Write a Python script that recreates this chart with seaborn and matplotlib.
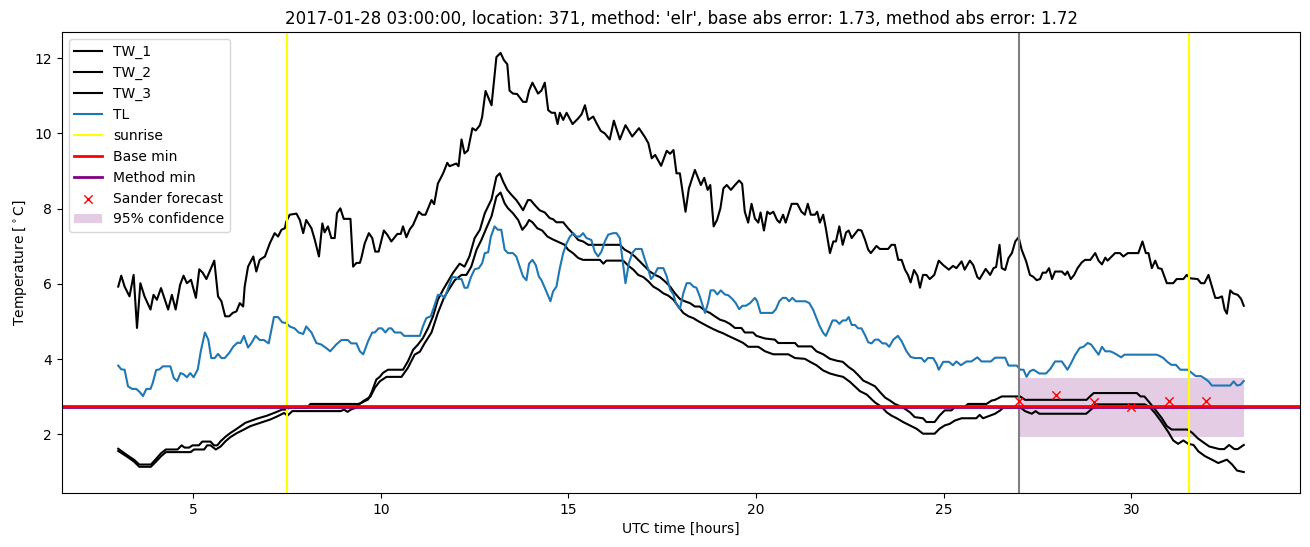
import matplotlib
matplotlib.use("Agg")
import matplotlib.pyplot as plt
import seaborn as sns
import numpy as np

# ---------------- data ----------------
tw1_hours = [3.00, 3.08, 3.17, 3.30, 3.41, 3.50, 3.59, 3.70, 3.86, 3.94, 4.03, 4.14, 4.33, 4.43, 4.53, 4.65, 4.74, 4.83, 4.94, 5.07,
             5.16, 5.25, 5.35, 5.56, 5.66, 5.75, 5.85, 5.96, 6.05, 6.15, 6.24, 6.33, 6.37, 6.46, 6.60, 6.68, 6.77, 6.91, 7.04, 7.17,
             7.26, 7.35, 7.44, 7.48, 7.57, 7.75, 7.84, 7.93, 8.01, 8.15, 8.24, 8.35, 8.44, 8.50, 8.59, 8.68, 8.77, 8.83, 8.92, 9.01,
             9.19, 9.26, 9.35, 9.44, 9.48, 9.57, 9.68, 9.77, 9.85, 9.94, 10.08, 10.17, 10.28, 10.44, 10.53, 10.59, 10.68, 10.77, 10.86, 11.01,
             11.10, 11.19, 11.35, 11.42, 11.52, 11.66, 11.77, 11.83, 12.01, 12.07, 12.15, 12.23, 12.32, 12.44, 12.53, 12.64, 12.70, 12.79, 12.95, 13.08,
             13.19, 13.28, 13.37, 13.43, 13.52, 13.63, 13.79, 13.88, 13.95, 14.04, 14.19, 14.28, 14.37, 14.46, 14.55, 14.64, 14.71, 14.77, 14.86, 14.95,
             15.11, 15.26, 15.35, 15.44, 15.53, 15.66, 15.75, 15.86, 15.97, 16.10, 16.21, 16.37, 16.52, 16.70, 16.88, 17.04, 17.13, 17.22, 17.31, 17.47,
             17.62, 17.71, 17.80, 17.88, 17.97, 18.12, 18.21, 18.37, 18.53, 18.62, 18.71, 18.78, 18.87, 18.96, 19.05, 19.13, 19.22, 19.33, 19.44, 19.55,
             19.63, 19.70, 19.79, 19.88, 19.97, 20.06, 20.12, 20.21, 20.30, 20.37, 20.46, 20.56, 20.63, 20.72, 20.79, 20.95, 21.10, 21.21, 21.30, 21.38,
             21.46, 21.57, 21.63, 21.70, 21.79, 21.86, 21.97, 22.06, 22.13, 22.22, 22.31, 22.40, 22.47, 22.55, 22.72, 22.81, 22.90, 22.99, 23.06, 23.21,
             23.30, 23.52, 23.61, 23.70, 23.79, 23.88, 23.97, 24.05, 24.12, 24.21, 24.30, 24.37, 24.45, 24.54, 24.63, 24.75, 24.87, 24.99, 25.14, 25.25,
             25.34, 25.48, 25.56, 25.70, 25.79, 25.90, 25.96, 26.12, 26.24, 26.33, 26.40, 26.49, 26.55, 26.64, 26.73, 26.82, 26.91, 27.00, 27.08, 27.20,
             27.30, 27.39, 27.48, 27.57, 27.64, 27.73, 27.81, 27.89, 27.97, 28.15, 28.24, 28.30, 28.39, 28.48, 28.57, 28.68, 28.77, 28.91, 29.04, 29.13,
             29.22, 29.31, 29.37, 29.48, 29.57, 29.70, 29.79, 29.91, 30.19, 30.30, 30.39, 30.46, 30.55, 30.64, 30.72, 30.81, 30.95, 31.12, 31.21, 31.39,
             31.48, 31.57, 31.77, 31.86, 31.95, 32.06, 32.24, 32.33, 32.42, 32.49, 32.55, 32.64, 32.72, 32.84, 32.93, 33.00]
tw1_temp = [5.93, 6.22, 5.93, 5.67, 6.24, 4.83, 6.02, 5.67, 5.32, 5.71, 5.58, 5.89, 5.32, 5.71, 5.32, 5.98, 6.22, 6.02, 6.11, 5.63,
            6.39, 6.30, 6.13, 6.62, 5.67, 5.54, 5.14, 5.14, 5.23, 5.27, 5.49, 5.40, 5.93, 6.46, 6.73, 6.33, 6.64, 6.73, 7.08, 7.35,
            7.26, 7.44, 7.48, 7.66, 7.84, 7.87, 7.70, 7.35, 7.70, 7.48, 7.17, 6.73, 7.61, 7.37, 7.53, 7.22, 7.22, 7.88, 8.01, 7.73,
            7.73, 6.46, 6.56, 6.56, 6.69, 7.08, 7.35, 7.22, 6.86, 6.86, 7.42, 7.31, 7.13, 7.33, 7.33, 7.53, 7.24, 7.45, 7.57, 7.92,
            7.84, 7.84, 8.23, 8.12, 8.67, 8.94, 9.22, 9.13, 9.20, 9.13, 9.84, 9.47, 9.55, 10.14, 10.08, 10.22, 10.44, 11.13, 10.75, 12.03,
            12.14, 11.95, 11.84, 11.14, 11.06, 11.05, 10.84, 10.84, 11.14, 11.35, 11.06, 11.14, 11.35, 10.62, 10.55, 10.55, 10.25, 10.55, 10.36, 10.55,
            10.25, 10.40, 10.51, 10.75, 10.36, 10.45, 10.27, 10.07, 10.00, 9.84, 10.34, 9.84, 10.22, 9.92, 10.14, 9.90, 9.74, 9.34, 9.43, 9.14,
            9.54, 9.46, 9.56, 8.94, 8.94, 7.92, 8.54, 9.03, 8.63, 8.82, 8.50, 8.63, 7.53, 7.70, 8.01, 8.54, 8.63, 8.50, 8.63, 8.75,
            8.66, 7.92, 7.63, 8.13, 7.74, 7.63, 7.90, 7.42, 7.92, 7.86, 7.92, 7.70, 7.63, 7.84, 7.63, 8.13, 8.13, 7.92, 7.84, 8.13,
            7.84, 7.84, 7.92, 7.63, 7.84, 7.48, 6.82, 7.13, 7.13, 7.53, 7.04, 7.37, 7.42, 7.22, 7.44, 7.42, 7.19, 6.91, 6.82, 7.01,
            6.93, 6.93, 7.04, 7.04, 6.64, 6.64, 6.38, 6.24, 6.04, 6.37, 6.22, 5.90, 6.24, 6.24, 6.13, 6.24, 6.62, 6.50, 6.38, 6.48,
            6.42, 6.60, 6.38, 6.62, 6.50, 6.18, 6.13, 6.40, 6.24, 6.42, 6.45, 7.04, 6.42, 6.37, 6.69, 6.82, 7.13, 7.24, 6.91, 6.60,
            6.24, 6.19, 6.10, 6.13, 6.30, 6.30, 6.42, 6.13, 6.33, 6.33, 6.24, 6.33, 6.13, 6.24, 6.42, 6.57, 6.64, 6.64, 6.82, 6.62,
            6.52, 6.70, 6.62, 6.73, 6.82, 6.82, 6.73, 6.82, 6.82, 7.13, 6.82, 6.82, 6.42, 6.62, 6.42, 6.40, 6.02, 6.02, 6.13, 6.13,
            6.24, 6.15, 6.13, 6.02, 6.02, 6.24, 5.63, 5.63, 5.67, 5.32, 5.21, 5.83, 5.75, 5.71, 5.60, 5.42]

tw2_hours = [3.00, 3.25, 3.43, 3.56, 3.87, 4.00, 4.14, 4.27, 4.58, 4.69, 4.77, 4.89, 4.98, 5.15, 5.24, 5.46, 5.55, 5.64, 5.73, 5.86,
             5.99, 6.13, 6.26, 6.39, 6.70, 6.97, 7.20, 7.37, 7.46, 7.59, 8.05, 8.12, 9.40, 9.48, 9.66, 9.75, 9.88, 9.97, 10.06, 10.19,
             10.59, 10.72, 10.86, 10.99, 11.12, 11.26, 11.39, 11.52, 11.66, 11.79, 11.92, 12.10, 12.23, 12.36, 12.50, 12.64, 12.77, 12.95, 13.08, 13.17,
             13.26, 13.37, 13.48, 13.61, 13.70, 13.79, 13.92, 13.99, 14.10, 14.23, 14.37, 14.50, 14.59, 14.68, 14.86, 14.99, 15.11, 15.26, 15.39, 15.53,
             16.37, 16.50, 16.63, 16.77, 16.90, 17.04, 17.17, 17.31, 17.44, 17.57, 17.71, 17.84, 17.97, 18.10, 18.24, 18.37, 18.50, 18.64, 18.77, 18.90,
             19.04, 19.17, 19.30, 19.44, 19.61, 19.70, 19.92, 20.01, 20.24, 20.50, 20.59, 21.04, 21.12, 21.48, 21.61, 21.79, 21.97, 22.15, 22.31, 22.47,
             22.60, 22.73, 22.86, 22.99, 23.17, 23.30, 23.44, 23.57, 23.70, 23.84, 23.97, 24.10, 24.23, 24.45, 24.54, 24.76, 24.89, 25.03, 25.21, 25.30,
             25.56, 25.65, 26.14, 26.28, 26.37, 26.55, 27.04, 27.17, 28.81, 28.90, 29.00, 30.15, 30.25, 30.35, 30.46, 30.64, 30.81, 30.95, 31.08, 31.50,
             31.63, 31.77, 31.95, 32.08, 32.35, 32.48, 32.61, 32.75, 32.84, 33.00]
tw2_temp = [1.62, 1.44, 1.32, 1.20, 1.20, 1.34, 1.50, 1.60, 1.60, 1.71, 1.65, 1.65, 1.71, 1.71, 1.81, 1.81, 1.71, 1.71, 1.82, 1.94,
            2.04, 2.13, 2.22, 2.31, 2.42, 2.50, 2.59, 2.66, 2.66, 2.72, 2.72, 2.81, 2.81, 2.84, 2.93, 3.11, 3.46, 3.53, 3.64, 3.72,
            3.72, 3.94, 4.25, 4.39, 4.56, 4.83, 5.14, 5.58, 5.85, 6.07, 6.29, 6.54, 6.46, 6.73, 7.22, 7.44, 7.88, 8.25, 8.85, 8.94,
            8.72, 8.50, 8.37, 8.23, 8.10, 7.96, 8.23, 8.23, 8.10, 7.96, 7.90, 7.75, 7.72, 7.64, 7.64, 7.48, 7.35, 7.17, 7.13, 7.04,
            7.04, 6.91, 6.84, 6.73, 6.60, 6.46, 6.33, 6.24, 6.18, 6.07, 5.93, 5.75, 5.60, 5.54, 5.49, 5.40, 5.40, 5.29, 5.23, 5.14,
            5.05, 5.01, 4.94, 4.83, 4.83, 4.71, 4.71, 4.62, 4.55, 4.52, 4.43, 4.43, 4.34, 4.34, 4.21, 4.13, 4.01, 3.96, 3.93, 3.79,
            3.70, 3.57, 3.43, 3.37, 3.28, 3.13, 2.98, 2.90, 2.81, 2.75, 2.68, 2.59, 2.46, 2.43, 2.33, 2.33, 2.50, 2.64, 2.64, 2.73,
            2.73, 2.81, 2.81, 2.90, 2.92, 3.01, 3.01, 2.92, 2.92, 3.01, 3.10, 3.10, 3.01, 3.01, 2.88, 2.66, 2.44, 2.22, 2.13, 2.13,
            2.04, 1.90, 1.77, 1.68, 1.61, 1.61, 1.72, 1.61, 1.61, 1.72]

tw3_hours = [3.00, 3.25, 3.43, 3.56, 3.87, 4.00, 4.14, 4.27, 4.93, 5.02, 5.29, 5.37, 5.46, 5.60, 5.73, 5.86, 5.99, 6.17, 6.35, 6.52,
             6.79, 7.06, 7.24, 7.42, 7.51, 7.64, 8.93, 9.02, 9.11, 9.20, 9.33, 9.42, 9.55, 9.72, 9.84, 9.97, 10.15, 10.55, 10.72, 10.90,
             11.04, 11.17, 11.35, 11.52, 11.68, 11.81, 11.97, 12.15, 12.28, 12.41, 12.55, 12.68, 12.81, 12.95, 13.08, 13.19, 13.30, 13.39, 13.52, 13.66,
             13.77, 13.88, 13.95, 14.04, 14.17, 14.30, 14.44, 14.57, 14.70, 14.90, 14.99, 15.12, 15.26, 15.39, 15.84, 15.93, 16.01, 16.46, 16.60, 16.73,
             16.86, 17.00, 17.13, 17.26, 17.40, 17.53, 17.66, 17.80, 17.93, 18.06, 18.20, 18.33, 18.46, 18.59, 18.72, 18.86, 18.99, 19.12, 19.26, 19.39,
             19.52, 19.66, 19.79, 20.06, 20.24, 20.46, 20.86, 21.04, 21.30, 21.44, 21.61, 21.79, 21.97, 22.15, 22.32, 22.50, 22.63, 22.77, 22.95, 23.17,
             23.35, 23.48, 23.61, 23.75, 23.92, 24.10, 24.28, 24.45, 24.76, 24.89, 25.03, 25.16, 25.30, 25.48, 25.87, 25.96, 26.05, 26.24, 26.37, 26.51,
             26.60, 27.04, 27.17, 27.35, 27.45, 27.55, 28.80, 28.95, 29.05, 30.36, 30.50, 30.64, 30.81, 30.99, 31.12, 31.25, 31.39, 31.52, 31.66, 31.79,
             31.97, 32.15, 32.32, 32.55, 32.69, 32.82, 33.00]
tw3_temp = [1.56, 1.40, 1.27, 1.14, 1.14, 1.27, 1.42, 1.53, 1.53, 1.60, 1.60, 1.71, 1.71, 1.60, 1.68, 1.82, 1.93, 2.04, 2.13, 2.22,
            2.31, 2.40, 2.48, 2.57, 2.50, 2.62, 2.62, 2.66, 2.60, 2.66, 2.71, 2.80, 2.90, 3.00, 3.24, 3.41, 3.53, 3.53, 3.77, 4.12,
            4.20, 4.43, 4.71, 5.23, 5.63, 5.85, 6.10, 6.24, 6.24, 6.46, 6.91, 7.17, 7.48, 7.80, 8.32, 8.43, 8.14, 8.01, 7.88, 7.70,
            7.44, 7.57, 7.70, 7.64, 7.48, 7.42, 7.26, 7.19, 7.13, 7.04, 6.91, 6.82, 6.69, 6.64, 6.64, 6.54, 6.62, 6.62, 6.48, 6.38,
            6.24, 6.18, 6.07, 5.93, 5.85, 5.75, 5.69, 5.58, 5.40, 5.23, 5.14, 5.09, 5.01, 4.94, 4.87, 4.80, 4.74, 4.69, 4.62, 4.56,
            4.50, 4.43, 4.33, 4.33, 4.21, 4.13, 4.13, 4.03, 4.01, 3.93, 3.84, 3.70, 3.62, 3.57, 3.53, 3.40, 3.28, 3.15, 3.06, 2.85,
            2.73, 2.59, 2.50, 2.43, 2.33, 2.24, 2.15, 2.02, 2.02, 2.15, 2.24, 2.28, 2.37, 2.43, 2.43, 2.52, 2.43, 2.50, 2.55, 2.64,
            2.72, 2.72, 2.62, 2.55, 2.62, 2.55, 2.55, 2.68, 2.80, 2.80, 2.72, 2.56, 2.33, 2.06, 1.84, 1.75, 1.84, 1.75, 1.72, 1.55,
            1.42, 1.33, 1.24, 1.33, 1.20, 1.04, 1.00]

tl_hours = [3.00, 3.08, 3.17, 3.26, 3.37, 3.48, 3.57, 3.66, 3.75, 3.86, 3.92, 4.01, 4.10, 4.19, 4.39, 4.48, 4.57, 4.66, 4.74, 4.83,
            4.92, 5.01, 5.12, 5.20, 5.31, 5.40, 5.48, 5.57, 5.66, 5.75, 5.84, 5.96, 6.07, 6.18, 6.26, 6.35, 6.46, 6.55, 6.66, 6.77,
            6.88, 7.01, 7.15, 7.26, 7.37, 7.48, 7.57, 7.70, 7.81, 7.93, 8.01, 8.15, 8.28, 8.41, 8.54, 8.65, 8.81, 8.95, 9.12, 9.21,
            9.35, 9.44, 9.53, 9.66, 9.77, 9.84, 9.94, 10.03, 10.12, 10.21, 10.28, 10.37, 10.53, 10.62, 11.04, 11.12, 11.21, 11.33, 11.42, 11.52,
            11.61, 11.70, 11.81, 11.90, 11.99, 12.06, 12.15, 12.23, 12.31, 12.40, 12.50, 12.61, 12.70, 12.77, 12.86, 12.93, 13.03, 13.12, 13.21, 13.30,
            13.39, 13.52, 13.61, 13.70, 13.79, 13.88, 13.95, 14.04, 14.13, 14.21, 14.28, 14.39, 14.52, 14.59, 14.68, 14.77, 14.86, 14.95, 15.04, 15.13,
            15.21, 15.30, 15.39, 15.48, 15.61, 15.70, 15.79, 15.88, 15.97, 16.06, 16.19, 16.28, 16.37, 16.43, 16.52, 16.61, 16.70, 16.79, 16.95, 17.04,
            17.13, 17.20, 17.29, 17.38, 17.53, 17.62, 17.71, 17.80, 17.86, 17.97, 18.06, 18.15, 18.24, 18.33, 18.41, 18.50, 18.64, 18.72, 18.79, 18.88,
            18.97, 19.06, 19.17, 19.26, 19.37, 19.46, 19.55, 19.64, 19.73, 19.84, 19.97, 20.03, 20.12, 20.24, 20.44, 20.53, 20.62, 20.71, 20.80, 20.88,
            20.97, 21.06, 21.32, 21.42, 21.52, 21.61, 21.70, 21.79, 21.86, 21.95, 22.04, 22.13, 22.22, 22.31, 22.40, 22.47, 22.55, 22.64, 22.72, 22.81,
            22.90, 22.99, 23.08, 23.17, 23.26, 23.37, 23.46, 23.55, 23.66, 23.78, 23.88, 24.01, 24.12, 24.23, 24.41, 24.49, 24.58, 24.72, 24.81, 24.87,
            24.99, 25.14, 25.25, 25.34, 25.46, 25.61, 25.74, 25.90, 26.01, 26.26, 26.37, 26.64, 26.73, 26.95, 27.04, 27.13, 27.21, 27.30, 27.39, 27.46,
            27.55, 27.73, 27.85, 27.97, 28.15, 28.30, 28.39, 28.51, 28.63, 28.73, 28.84, 28.93, 29.04, 29.13, 29.22, 29.31, 29.44, 29.53, 29.62, 29.73,
            29.82, 30.68, 30.77, 30.86, 30.95, 31.07, 31.19, 31.31, 31.50, 31.61, 31.72, 31.86, 31.97, 32.06, 32.15, 32.64, 32.73, 32.82, 32.91, 33.00]
tl_temp = [3.83, 3.73, 3.72, 3.28, 3.21, 3.21, 3.13, 3.02, 3.21, 3.21, 3.37, 3.71, 3.73, 3.81, 3.81, 3.50, 3.42, 3.63, 3.60, 3.52,
           3.63, 3.52, 3.73, 4.21, 4.71, 4.52, 4.03, 4.03, 4.14, 4.03, 4.03, 4.17, 4.34, 4.44, 4.43, 4.62, 4.31, 4.43, 4.62, 4.51,
           4.51, 4.42, 5.12, 5.12, 4.98, 4.96, 4.87, 4.82, 4.71, 4.67, 4.87, 4.71, 4.43, 4.39, 4.30, 4.21, 4.39, 4.51, 4.51, 4.42,
           4.42, 4.21, 4.13, 4.48, 4.71, 4.71, 4.82, 4.82, 4.71, 4.82, 4.82, 4.71, 4.71, 4.62, 4.62, 4.87, 5.09, 5.14, 5.40, 5.71,
           5.71, 5.63, 5.93, 6.18, 6.18, 6.13, 6.13, 5.90, 5.90, 6.18, 6.39, 6.42, 6.55, 6.82, 6.84, 7.25, 7.53, 7.44, 7.44, 6.91,
           6.82, 6.82, 6.73, 6.46, 6.20, 6.10, 6.54, 6.64, 6.50, 6.20, 6.10, 5.85, 5.54, 5.80, 5.93, 6.42, 6.82, 7.08, 7.26, 7.35,
           7.26, 7.26, 7.35, 7.22, 7.17, 6.86, 6.73, 6.86, 7.13, 7.31, 7.35, 7.35, 7.22, 6.73, 6.02, 6.55, 6.82, 6.93, 6.93, 6.64,
           6.38, 6.13, 6.24, 6.42, 6.42, 6.20, 5.85, 5.72, 5.49, 5.33, 5.75, 6.02, 6.02, 5.93, 5.90, 5.67, 5.23, 5.49, 5.83, 5.83,
           5.72, 5.83, 5.72, 5.70, 5.60, 5.49, 5.33, 5.42, 5.42, 5.49, 5.63, 5.54, 5.23, 5.23, 5.23, 5.33, 5.54, 5.63, 5.63, 5.54,
           5.63, 5.54, 5.54, 5.49, 5.32, 5.09, 4.87, 4.70, 4.62, 4.82, 5.03, 5.03, 4.94, 5.03, 5.03, 5.12, 4.91, 4.91, 4.82, 4.82,
           4.65, 4.45, 4.42, 4.52, 4.52, 4.42, 4.42, 4.33, 4.52, 4.62, 4.48, 4.21, 4.06, 4.03, 4.03, 3.93, 4.03, 4.03, 3.88, 3.72,
           3.93, 3.93, 3.84, 3.94, 3.84, 3.94, 3.94, 4.05, 3.94, 3.94, 4.04, 4.04, 3.83, 3.83, 3.72, 3.72, 3.53, 3.68, 3.72, 3.68,
           3.62, 3.62, 3.75, 3.94, 3.94, 3.72, 3.88, 4.12, 4.30, 4.33, 4.43, 4.39, 4.24, 4.12, 4.33, 4.21, 4.21, 4.17, 4.12, 4.05,
           4.12, 4.12, 4.08, 4.03, 3.94, 3.85, 3.85, 3.72, 3.72, 3.64, 3.55, 3.55, 3.48, 3.41, 3.30, 3.30, 3.41, 3.30, 3.32, 3.42]

sunrise_hours = [7.5, 31.55]
forecast_start = 27.0
base_min = 2.75
method_min = 2.72
forecast_hours = [27, 28, 29, 30, 31, 32]
forecast_temp = [2.88, 3.05, 2.85, 2.73, 2.88, 2.90]
conf_hours = [27.0, 33.0]
conf_low = [1.94, 1.94]
conf_high = [3.50, 3.50]

title = ("2017-01-28 03:00:00, location: 371, method: 'elr', "
         "base abs error: 1.73, method abs error: 1.72")

# ---------------- plot ----------------
fig, ax = plt.subplots(figsize=(13.1, 5.47), dpi=100)
fig.subplots_adjust(left=0.0473, right=0.9924, top=0.9415, bottom=0.0987)

sns.lineplot(x=tw1_hours, y=tw1_temp, color="black", label="TW_1", estimator=None, ax=ax, linewidth=1.5)
sns.lineplot(x=tw2_hours, y=tw2_temp, color="black", label="TW_2", estimator=None, ax=ax, linewidth=1.5)
sns.lineplot(x=tw3_hours, y=tw3_temp, color="black", label="TW_3", estimator=None, ax=ax, linewidth=1.5)
sns.lineplot(x=tl_hours, y=tl_temp, color="#1f77b4", label="TL", estimator=None, ax=ax, linewidth=1.5)

for i, h in enumerate(sunrise_hours):
    ax.axvline(h, color="yellow", linewidth=1.5, label="sunrise" if i == 0 else None)
ax.axvline(forecast_start, color="grey", linewidth=1.5)

ax.axhline(base_min, color="red", linewidth=2, label="Base min", zorder=2.2)
ax.axhline(method_min, color="purple", linewidth=2, label="Method min", zorder=2.1)

sns.scatterplot(x=forecast_hours, y=forecast_temp, color="red", marker="x", s=36,
                linewidth=1.0, label="Sander forecast", ax=ax, zorder=3)
ax.fill_between(conf_hours, conf_low, conf_high, color="purple", alpha=0.2,
                linewidth=0, label="95% confidence")

ax.set_xticks([5, 10, 15, 20, 25, 30])
ax.set_yticks([2, 4, 6, 8, 10, 12])
ax.set_xlabel("UTC time [hours]")
ax.set_ylabel("Temperature [$^\\circ$C]")
ax.set_title(title)
ax.legend(loc="upper left")

fig.savefig("out.png", dpi=100)
